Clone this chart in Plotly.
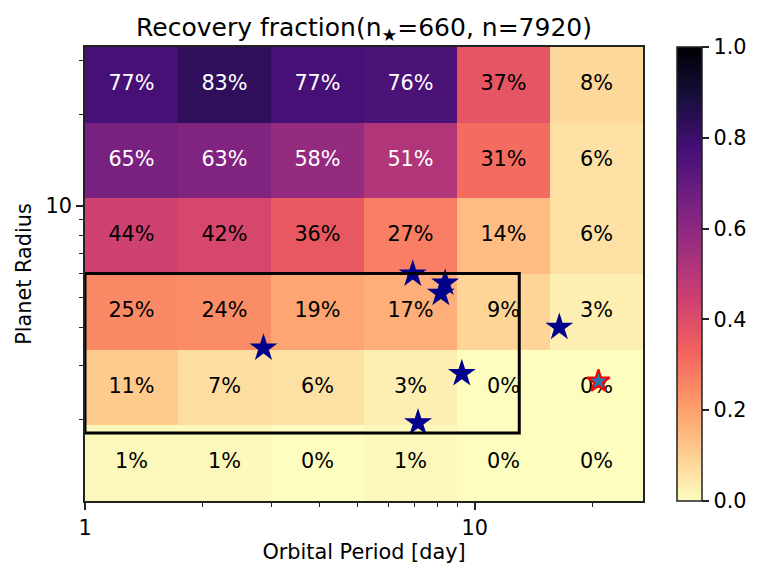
import numpy as np
import plotly.graph_objects as go

# bin edges of the grid (log spaced)
period_edges = [1.0, 1.732, 3.0, 5.196, 9.0, 15.59, 27.0]
radius_edges = [1.077, 1.907, 3.376, 5.98, 10.58, 18.73, 33.2]

# recovery fraction per cell, rows listed from top (large radius) to bottom
recovery_top_down = [
    [0.77, 0.83, 0.77, 0.76, 0.37, 0.08],
    [0.65, 0.63, 0.58, 0.51, 0.31, 0.06],
    [0.44, 0.42, 0.36, 0.27, 0.14, 0.06],
    [0.25, 0.24, 0.19, 0.17, 0.09, 0.03],
    [0.11, 0.07, 0.06, 0.03, 0.00, 0.00],
    [0.01, 0.01, 0.00, 0.01, 0.00, 0.00],
]

# known planets
planet_period = [2.87, 6.93, 8.39, 8.18, 16.47, 9.26, 7.15]
planet_radius = [3.42, 5.98, 5.58, 5.17, 4.00, 2.82, 1.945]

# target planet
target_period = [20.75]
target_radius = [2.66]

# highlighted region
box_period = [1.0, 13.0]
box_radius = [1.8, 6.0]

FONT = "DejaVu Sans"
FS = 20.8

z = np.array(recovery_top_down[::-1])
pe = np.array(period_edges)
re_ = np.array(radius_edges)
xc = np.sqrt(pe[:-1] * pe[1:])
yc = np.sqrt(re_[:-1] * re_[1:])
gx, gy = np.meshgrid(xc, yc)

fig = go.Figure()

fig.add_trace(
    go.Heatmap(
        x=period_edges,
        y=radius_edges,
        z=z,
        zmin=0,
        zmax=1,
        colorscale="Magma_r",
        hoverinfo="skip",
        colorbar=dict(
            x=1.061,
            xanchor="left",
            xpad=0,
            y=0.5,
            yanchor="middle",
            ypad=0,
            len=1,
            lenmode="fraction",
            thickness=25,
            outlinewidth=1.5,
            outlinecolor="#222",
            ticks="outside",
            ticklen=7,
            tickwidth=1.5,
            tickcolor="#222",
            tickvals=[0, 0.2, 0.4, 0.6, 0.8, 1.0],
            ticktext=["0.0", "0.2", "0.4", "0.6", "0.8", "1.0"],
            tickfont=dict(family=FONT, size=FS, color="black"),
        ),
    )
)

fig.add_trace(
    go.Scatter(
        x=gx.ravel(),
        y=gy.ravel(),
        mode="text",
        text=[f"{v * 100:.0f}%" for v in z.ravel()],
        textposition="middle center",
        textfont=dict(
            family=FONT,
            size=FS,
            color=["white" if v > 0.5 else "black" for v in z.ravel()],
        ),
        hoverinfo="skip",
        showlegend=False,
    )
)

fig.add_shape(
    type="rect",
    xref="x",
    yref="y",
    x0=box_period[0],
    x1=box_period[1],
    y0=box_radius[0],
    y1=box_radius[1],
    line=dict(color="black", width=3),
)

fig.add_trace(
    go.Scatter(
        x=planet_period,
        y=planet_radius,
        mode="markers",
        marker=dict(symbol="star", size=21, color="darkblue", line=dict(width=0)),
        showlegend=False,
    )
)

fig.add_trace(
    go.Scatter(
        x=target_period,
        y=target_radius,
        mode="markers",
        marker=dict(symbol="star", size=17, color="#1f77b4", line=dict(color="red", width=2)),
        showlegend=False,
    )
)

axis_common = dict(
    type="log",
    showgrid=False,
    zeroline=False,
    showline=True,
    mirror=True,
    linecolor="#222",
    linewidth=1.5,
    ticks="outside",
    ticklen=7,
    tickwidth=1.5,
    tickcolor="#222",
    tickfont=dict(family=FONT, size=FS, color="black"),
)

fig.update_xaxes(
    **axis_common,
    range=[np.log10(period_edges[0]), np.log10(period_edges[-1])],
    tickvals=[1, 10],
    ticktext=["1", "10"],
    minor=dict(
        tickmode="array",
        tickvals=[2, 3, 4, 5, 6, 7, 8, 9, 20],
        ticks="outside",
        ticklen=4,
        tickwidth=1.2,
        tickcolor="#222",
        showgrid=False,
    ),
    title=dict(text="Orbital Period [day]", font=dict(family=FONT, size=FS, color="black"), standoff=6),
)

fig.update_yaxes(
    **axis_common,
    range=[np.log10(radius_edges[0]), np.log10(radius_edges[-1])],
    tickvals=[10],
    ticktext=["10"],
    minor=dict(
        tickmode="array",
        tickvals=[2, 3, 4, 5, 6, 7, 8, 9, 20, 30],
        ticks="outside",
        ticklen=4,
        tickwidth=1.2,
        tickcolor="#222",
        showgrid=False,
    ),
    title=dict(text="Planet Radius", font=dict(family=FONT, size=FS, color="black"), standoff=8),
)

# the page puts the figure 8px in from the top left corner
fig.update_layout(
    width=755,
    height=571,
    margin=dict(l=77, r=120, t=39, b=78),
    paper_bgcolor="white",
    plot_bgcolor="white",
    showlegend=False,
    title=dict(
        text="Recovery fraction(n<sub>★</sub>=660, n=7920)",
        x=0.5,
        xref="paper",
        xanchor="center",
        y=1 - 19 / 571,
        yref="container",
        yanchor="middle",
        font=dict(family=FONT, size=25, color="black"),
    ),
)

fig.write_html("out.html")
